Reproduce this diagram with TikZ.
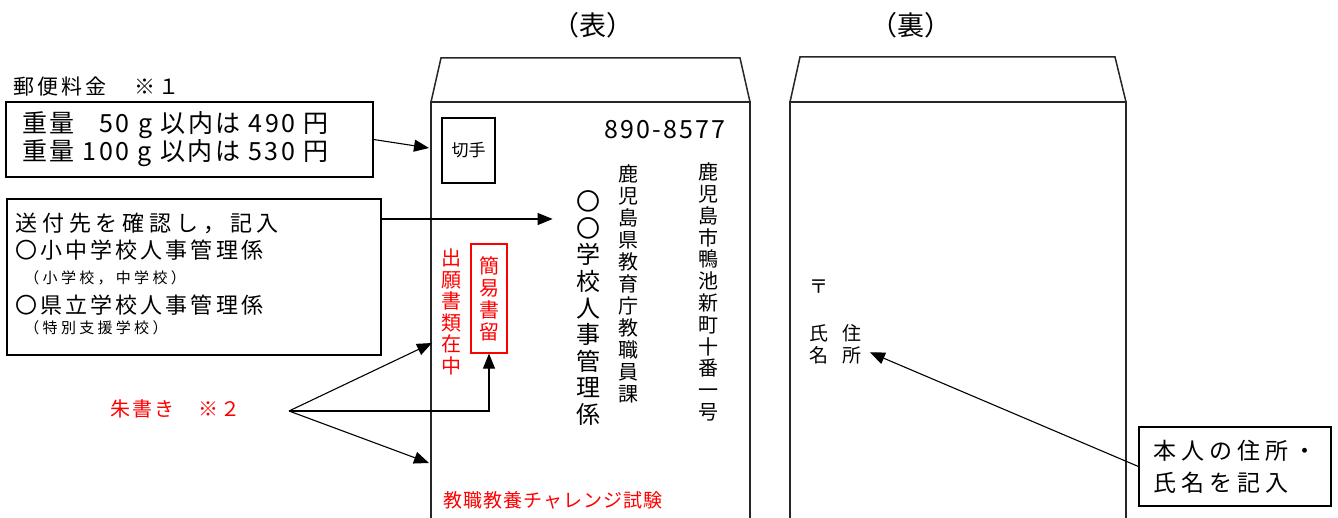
\documentclass[tikz,border=0pt]{standalone}
\usepackage{fontspec}
\setmainfont{Noto Sans CJK JP}
\usetikzlibrary{positioning}
\usetikzlibrary{arrows.meta}
\definecolor{shu}{RGB}{255,0,0}

\tikzset{
  env/.style={line width=0.75pt, black!85},
  arr/.style={line width=0.55pt, -{Triangle[length=7.5pt,width=6pt]}},
  frame/.style={draw, line width=0.6pt},
  vcol/.style={align=center, inner sep=0pt},
}

\begin{document}
\begin{tikzpicture}[x=0.5pt, y=-0.5pt]
\useasboundingbox (0,0) rectangle (1338,518);

% envelopes
\draw[env] (431,518) -- (431,102) -- (750,102) -- (750,518);
\draw[env] (431,102) -- (441,58) -- (740,58) -- (750,102);
\draw[env] (790,518) -- (790,102) -- (1126,102) -- (1126,518);
\draw[env] (790,102) -- (800,57) -- (1115,57) -- (1126,102);

\node (omote) at (593,25) [font=\fontsize{13.5}{15}\selectfont] {（表）};
\node (ura) at (911,25) [font=\fontsize{13.5}{15}\selectfont] {（裏）};

% front
\node (stamp) at (468.5,150.5) [frame, line width=0.8pt, minimum width=26.5pt, minimum height=32.5pt, inner sep=0pt, font=\fontsize{8.5}{10}\selectfont] {切手};
\node (zip) at (665,130) [font=\fontsize{12.5}{14}\selectfont\addfontfeature{LetterSpace=9}] {890-8577};
\node (school) at (588,308) [vcol, font=\fontsize{12}{13.3}\selectfont] {〇\\〇\\学\\校\\人\\事\\管\\理\\係};
\node (bureau) at (628,284) [vcol, font=\fontsize{10}{11}\selectfont] {鹿\\児\\島\\県\\教\\育\\庁\\教\\職\\員\\課};
\node (street) at (708,292) [vcol, font=\fontsize{10}{10.9}\selectfont] {鹿\\児\\島\\市\\鴨\\池\\新\\町\\十\\番\\一\\号};

\node (incl) at (451,312) [vcol, text=shu, font=\fontsize{10}{10.75}\selectfont] {出\\願\\書\\類\\在\\中};
\node (reg) at (489,298.5) [frame, draw=shu, text=shu, align=center, minimum width=18pt, minimum height=54.5pt, inner sep=0pt, font=\fontsize{10}{11}\selectfont] {簡\\易\\書\\留};
\node (exam) at (553,500) [text=shu, font=\fontsize{9.5}{11}\selectfont\addfontfeature{LetterSpace=5}] {教職教養チャレンジ試験};

% left notes
\node (feehead) at (13,87) [anchor=west, inner sep=0pt, font=\fontsize{10.5}{12}\selectfont\addfontfeature{LetterSpace=15}] {郵便料金　※１};
\node (fee) at (189.5,139.5) [frame, minimum width=183.5pt, minimum height=37.5pt, inner xsep=8pt, text width=167.5pt, align=left, font=\fontsize{12.5}{14}\selectfont\addfontfeature{LetterSpace=10}] {重量\hspace{1em}50 g 以内は 490 円\\重量 100 g 以内は 530 円};

\node (dest) at (194,277) [frame, minimum width=187pt, minimum height=78pt] {};
\node (d1) at (15,223) [anchor=west, inner sep=0pt, font=\fontsize{11}{13}\selectfont\addfontfeature{LetterSpace=22}] {送付先を確認し，記入};
\node (d2) at (15,250) [anchor=west, inner sep=0pt, font=\fontsize{11}{13}\selectfont\addfontfeature{LetterSpace=14}] {〇小中学校人事管理係};
\node (d3) at (24,278) [anchor=west, inner sep=0pt, font=\fontsize{7.5}{9}\selectfont\addfontfeature{LetterSpace=22}] {（小学校，中学校）};
\node (d4) at (15,305) [anchor=west, inner sep=0pt, font=\fontsize{11}{13}\selectfont\addfontfeature{LetterSpace=14}] {〇県立学校人事管理係};
\node (d5) at (24,328) [anchor=west, inner sep=0pt, font=\fontsize{7.5}{9}\selectfont\addfontfeature{LetterSpace=22}] {（特別支援学校）};

\node (note) at (110,409) [anchor=west, inner sep=0pt, text=shu, font=\fontsize{10}{12}\selectfont\addfontfeature{LetterSpace=10}] {朱書き　※２};

\coordinate (feeTip) at (429,148);
\coordinate (destOut) at (381,219);
\coordinate (fan) at (289,411);
\coordinate (inclTip) at (432,343);
\coordinate (examTip) at (429,463);

\draw[arr] (fee.east) -- (feeTip);
\draw[arr] (destOut) -- ([xshift=-11.5pt]school.west |- destOut);
\draw[arr] (fan) -- (inclTip);
\draw[arr] (fan) -| (reg.south);
\draw[arr] (fan) -- (examTip);

% back
\node (yubin) at (819,287) [font=\fontsize{9.5}{11}\selectfont] {〒};
\node (shimei) at (819,344) [vcol, font=\fontsize{9.5}{11}\selectfont] {氏\\名};
\node (jusho) at (852,344) [vcol, inner xsep=4pt, font=\fontsize{9.5}{11}\selectfont] {住\\所};
\node (self) at (1235,466.5) [frame, minimum width=96pt, minimum height=39.5pt, align=left, font=\fontsize{11.5}{16}\selectfont\addfontfeature{LetterSpace=22}] {本人の住所・\\氏名を記入};

\draw[arr] (self.west) -- (jusho.-25);

\end{tikzpicture}
\end{document}
